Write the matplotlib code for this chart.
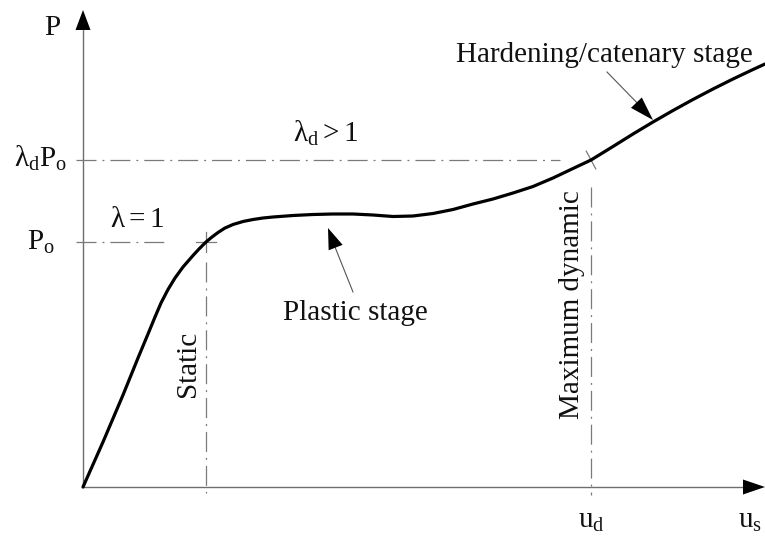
import numpy as np
import matplotlib
matplotlib.use("Agg")
import matplotlib.pyplot as plt

# Load-displacement curve (u: displacement, P: load), arbitrary units
u_curve = [0.00, 0.20, 0.40, 0.55, 0.65, 0.72, 0.78, 0.85, 0.92, 1.00, 1.10, 1.16,
           1.23, 1.29, 1.35, 1.42, 1.50, 1.60, 1.70, 1.80, 1.90, 2.10, 2.30, 2.50,
           2.70, 2.90, 3.10, 3.30, 3.50, 3.70, 3.90, 4.10, 4.30, 4.50, 4.70, 4.90,
           5.08, 5.30, 5.50, 5.70, 5.90, 6.10, 6.30, 6.50, 6.70, 6.82]
P_curve = [0.00, 0.45, 0.92, 1.29, 1.53, 1.70, 1.84, 1.975, 2.09, 2.20, 2.315, 2.38,
           2.45, 2.50, 2.545, 2.59, 2.625, 2.655, 2.675, 2.69, 2.70, 2.715, 2.725, 2.73,
           2.73, 2.72, 2.705, 2.71, 2.735, 2.775, 2.83, 2.88, 2.94, 3.005, 3.09, 3.185,
           3.27, 3.405, 3.53, 3.65, 3.765, 3.875, 3.98, 4.08, 4.175, 4.23]

# Reference levels
P_o = 2.45            # static load level (lambda = 1)
lamd_P_o = 3.27       # amplified load level (lambda_d > 1)
u_static = 1.23       # static displacement
u_d = 5.08            # maximum dynamic displacement

plt.rcParams["font.family"] = ["Liberation Serif", "DejaVu Serif"]
plt.rcParams["mathtext.fontset"] = "custom"
plt.rcParams["mathtext.rm"] = "Liberation Serif"
plt.rcParams["mathtext.it"] = "Liberation Serif"
plt.rcParams["mathtext.bf"] = "Liberation Serif:bold"
plt.rcParams["lines.scale_dashes"] = False

fig = plt.figure(figsize=(7.65, 5.45), dpi=100)
ax = fig.add_axes([0, 0, 1, 1])
ax.set_xlim(-0.83, 6.82)
ax.set_ylim(-0.58, 4.87)
ax.axis("off")

AXIS_C = "#6e6e6e"
GUIDE_C = "#7a7a7a"
INK = "#111111"
DASHDOT = (0, (14.4, 4.3, 1.4, 4.3))
FS = 21


def head(tip, direction, length, width, color="black"):
    d = np.asarray(direction, float)
    d /= np.hypot(*d)
    n = np.array([-d[1], d[0]])
    tip = np.asarray(tip, float)
    base = tip - d * length
    pts = np.array([tip, base + n * width / 2, base - n * width / 2])
    ax.fill(pts[:, 0], pts[:, 1], color=color, lw=0, zorder=5)


# Coordinate axes with arrowheads
ax.plot([0, 6.62], [0, 0], color=AXIS_C, lw=1.0, zorder=2)
ax.plot([0, 0], [0, 4.59], color=AXIS_C, lw=1.0, zorder=2)
head((6.82, 0), (1, 0), 0.22, 0.15)
head((0, 4.77), (0, 1), 0.20, 0.15)

# Guide lines for the static state
ax.plot([-0.07, 0.82], [P_o, P_o], color=GUIDE_C, lw=0.9, linestyle=DASHDOT)
ax.plot([u_static, u_static], [P_o - 0.20, -0.06], color=GUIDE_C, lw=0.9, linestyle=DASHDOT)
ax.plot([u_static - 0.10, u_static + 0.10], [P_o, P_o], color=GUIDE_C, lw=0.9)
ax.plot([u_static, u_static], [P_o - 0.10, P_o + 0.10], color=GUIDE_C, lw=0.9)

# Guide lines for the maximum dynamic state
ax.plot([-0.07, 4.77], [lamd_P_o, lamd_P_o], color=GUIDE_C, lw=0.9, linestyle=DASHDOT)
ax.plot([u_d, u_d], [lamd_P_o - 0.27, -0.08], color=GUIDE_C, lw=0.9, linestyle=DASHDOT)
slope = np.array([0.56, 0.30])
slope /= np.hypot(*slope)
perp = np.array([slope[1], -slope[0]])
for vec in (slope, perp):
    ax.plot([u_d - vec[0] * 0.10, u_d + vec[0] * 0.10],
            [lamd_P_o - vec[1] * 0.10, lamd_P_o + vec[1] * 0.10], color=GUIDE_C, lw=0.9)

# Load-displacement curve
ax.plot(u_curve, P_curve, color="black", lw=2.3, solid_capstyle="round",
        solid_joinstyle="round", zorder=4)

# Stage callouts
ax.plot([2.70, 2.50], [1.95, 2.45], color="#555555", lw=0.8)
head((2.45, 2.59), (2.45 - 2.70, 2.59 - 1.95), 0.21, 0.15)
ax.plot([5.24, 5.62], [4.15, 3.76], color="#555555", lw=0.8)
head((5.70, 3.67), (5.70 - 5.24, 3.67 - 4.15), 0.24, 0.15)

# Labels
ax.text(-0.31, 4.52, "P", fontsize=FS, color=INK, ha="center", va="baseline")
ax.text(-0.16, 3.20, r"$\lambda_{\rm d}\rm P_o$", fontsize=FS, color=INK, ha="right", va="baseline")
ax.text(-0.28, 2.37, r"$\rm P_o$", fontsize=FS, color=INK, ha="right", va="baseline")
ax.text(0.27, 2.60, r"$\lambda = 1$", fontsize=FS, color=INK, ha="left", va="baseline")
ax.text(2.10, 3.45, r"$\lambda_{\rm d} > 1$", fontsize=FS, color=INK, ha="left", va="baseline")
ax.text(1.05, 1.23, "Static", fontsize=FS, color=INK, rotation=90,
        ha="center", va="center", rotation_mode="anchor")
ax.text(4.89, 1.82, "Maximum dynamic", fontsize=FS, color=INK, rotation=90,
        ha="center", va="center", rotation_mode="anchor")
ax.text(2.72, 1.67, "Plastic stage", fontsize=FS, color=INK, ha="center", va="baseline")
ax.text(6.70, 4.25, "Hardening/catenary stage", fontsize=FS, color=INK, ha="right", va="baseline")
ax.text(4.95, -0.41, r"$\rm u_d$", fontsize=FS, color=INK, ha="left", va="baseline")
ax.text(6.55, -0.41, r"$\rm u_s$", fontsize=FS, color=INK, ha="left", va="baseline")

fig.savefig("out.png", dpi=100)
